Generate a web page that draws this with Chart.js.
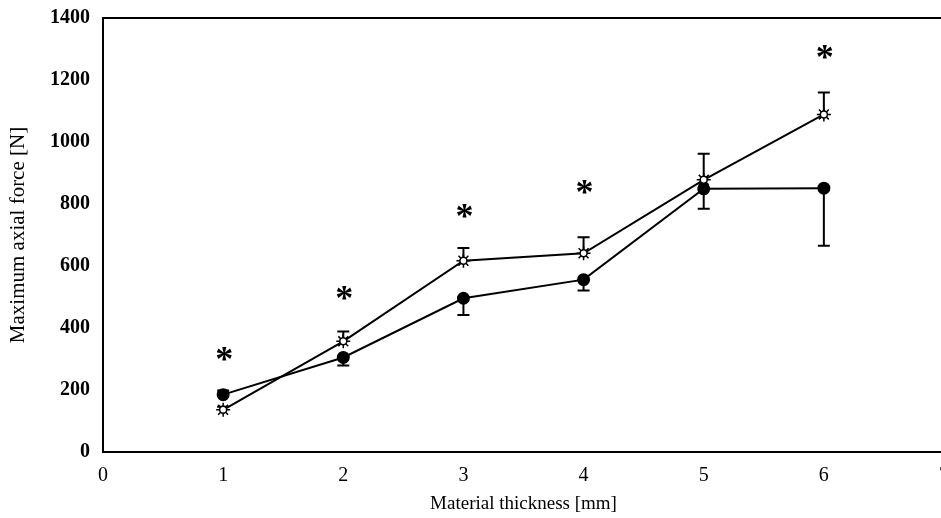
<!DOCTYPE html>
<html lang="en">
<head>
  <meta charset="UTF-8" />
  <title>Maximum axial force vs material thickness</title>
  <script src="https://cdn.jsdelivr.net/npm/chart.js"></script>
  <style>
    html, body { margin: 0; padding: 0; background: #fff; overflow: hidden; }
  </style>
</head>
<body>
  <canvas id="graphique" width="1000" height="518"></canvas>

  <script>
    // values
    const thickness = [1, 2, 3, 4, 5, 6];
    const forceCircle = [185, 305, 496, 556, 849, 851];
    const errCircle = [13, -26, -54, -35, -64, -186];   // sign gives direction of the bar
    const forceStar = [136, 357, 617, 641, 878, 1089];
    const errStar = [10, 32, 41, 52, 84, 71];
    const sigThickness = [1, 2, 3, 4, 6];
    const sigForce = [320, 516, 781, 857, 1293];

    const serif = "'Liberation Serif', 'Times New Roman', serif";

    const pts = (xs, ys) => xs.map((x, i) => ({ x: x, y: ys[i] }));

    const topBorder = {
      id: 'topBorder',
      afterDraw(chart) {
        const { ctx, chartArea } = chart;
        ctx.save();
        ctx.strokeStyle = '#000';
        ctx.lineWidth = 2;
        ctx.beginPath();
        ctx.moveTo(chartArea.left - 1, chartArea.top);
        ctx.lineTo(chartArea.right, chartArea.top);
        ctx.stroke();
        ctx.restore();
      }
    };

    const errorBars = {
      id: 'errorBars',
      beforeDatasetsDraw(chart) {
        const { ctx, scales } = chart;
        const sx = scales.x, sy = scales.y;
        ctx.save();
        ctx.strokeStyle = '#000';
        ctx.lineWidth = 2;
        const draw = (ys, errs) => {
          thickness.forEach((t, i) => {
            const px = sx.getPixelForValue(t);
            const p0 = sy.getPixelForValue(ys[i]);
            const p1 = sy.getPixelForValue(ys[i] + errs[i]);
            ctx.beginPath();
            ctx.moveTo(px, p0);
            ctx.lineTo(px, p1);
            ctx.moveTo(px - 6, p1);
            ctx.lineTo(px + 6, p1);
            ctx.stroke();
          });
        };
        draw(forceCircle, errCircle);
        draw(forceStar, errStar);
        ctx.restore();
      }
    };

    const asterisks = {
      id: 'asterisks',
      afterDatasetsDraw(chart) {
        const { ctx, scales } = chart;
        ctx.save();
        ctx.fillStyle = '#000';
        ctx.font = 'bold 36px ' + serif;
        ctx.textAlign = 'center';
        ctx.textBaseline = 'alphabetic';
        sigThickness.forEach((t, i) => {
          const px = scales.x.getPixelForValue(t);
          const py = scales.y.getPixelForValue(sigForce[i]);
          ctx.fillText('*', px + 1, py + 18);
        });
        ctx.restore();
      }
    };

    new Chart(document.getElementById('graphique'), {
      type: 'line',
      data: {
        datasets: [
          {
            data: pts(thickness, forceStar),
            showLine: false,
            pointStyle: 'circle',
            pointRadius: 3.5,
            pointBackgroundColor: '#fff',
            pointBorderColor: '#000',
            pointBorderWidth: 1.5,
            order: 0
          },
          {
            data: pts(thickness, forceStar),
            borderColor: '#000',
            borderWidth: 2,
            pointStyle: 'star',
            pointRadius: 7,
            pointBorderColor: '#000',
            pointBorderWidth: 1.5,
            tension: 0,
            order: 1
          },
          {
            data: pts(thickness, forceCircle),
            borderColor: '#000',
            borderWidth: 2,
            pointStyle: 'circle',
            pointRadius: 5.5,
            pointBackgroundColor: '#000',
            pointBorderColor: '#000',
            tension: 0,
            order: 2
          }
        ]
      },
      options: {
        responsive: false,
        animation: false,
        layout: { padding: { top: 18, right: 56, left: 0, bottom: 0 } },
        plugins: {
          legend: { display: false },
          tooltip: { enabled: false }
        },
        scales: {
          x: {
            type: 'linear',
            min: 0,
            max: 7,
            grid: { display: false },
            border: { display: true, color: '#000', width: 2 },
            ticks: {
              stepSize: 1,
              color: '#000',
              padding: 4,
              font: { family: serif, size: 20 },
              callback: v => String(v)
            },
            title: {
              display: true,
              text: 'Material thickness [mm]',
              color: '#000',
              font: { family: serif, size: 19 },
              padding: { top: 0, bottom: 3 }
            },
            afterFit(scale) { scale.height = 66; }
          },
          y: {
            min: 0,
            max: 1400,
            grid: { display: false },
            border: { display: true, color: '#000', width: 2 },
            ticks: {
              stepSize: 200,
              color: '#000',
              padding: 5,
              font: { family: serif, size: 20, weight: 'bold' },
              callback: v => String(v)
            },
            title: {
              display: true,
              text: 'Maximum axial force [N]',
              color: '#000',
              font: { family: serif, size: 21 },
              padding: { top: 6, bottom: 0 }
            },
            afterFit(scale) { scale.width = 103; }
          }
        }
      },
      plugins: [topBorder, errorBars, asterisks]
    });
  </script>
</body>
</html>
